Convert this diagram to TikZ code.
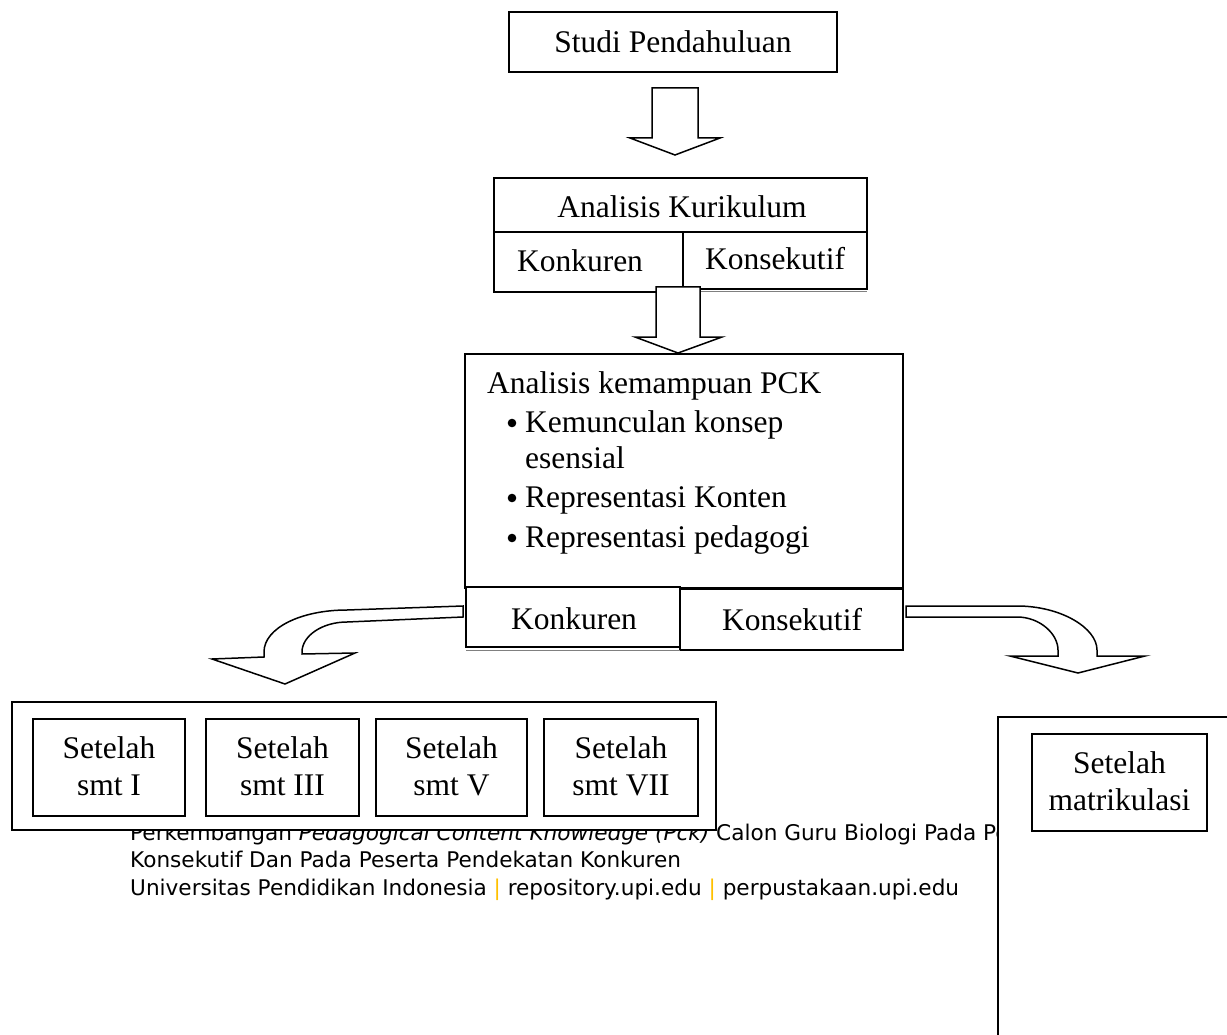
\documentclass[tikz,border=0pt]{standalone}
\usepackage{fontspec}
\setmainfont{Liberation Serif}
\newfontfamily\footfont{DejaVu Sans}
\usetikzlibrary{calc}
\definecolor{sepgold}{RGB}{255,192,0}
\begin{document}
\begin{tikzpicture}[x=1pt,y=-1pt,
  box/.style={draw=black, line width=2pt, fill=white},
  cell/.style={draw=black, line width=1.7pt, fill=white},
  txt/.style={font=\fontsize{31.5}{37.5}\selectfont, inner sep=0pt, anchor=base},
  ltxt/.style={font=\fontsize{31.5}{37.5}\selectfont, inner sep=0pt, anchor=base west},
  barrow/.style={draw=black, line width=1.5pt, fill=white, line join=miter},
  foot/.style={font=\footfont\fontsize{21.6}{27.5}\selectfont, inner sep=0pt, anchor=base west}]
\useasboundingbox (0,0) rectangle (1227,1035);
\clip (0,0) rectangle (1227,1035);

% footer text (partly covered by boxes)
\node[foot] (f1) at (130,840) {Perkembangan \textit{Pedagogical Content Knowledge (Pck)} Calon Guru Biologi Pada Peserta Pendekatan};
\node[foot] (f2) at (130,867.5) {Konsekutif Dan Pada Peserta Pendekatan Konkuren};
\node[foot] (f3) at (130,895) {Universitas Pendidikan Indonesia {\color{sepgold}|} repository.upi.edu {\color{sepgold}|} perpustakaan.upi.edu};

% Studi Pendahuluan
\draw[box] (509,12) rectangle (837,72);
\node[txt] (studi) at (673,53) {Studi Pendahuluan};

% arrow 1
\coordinate (a1) at (675,88);
\draw[barrow] (a1) ++(-23,0) -- ++(46,0) -- ++(0,50) -- ++(22,0) -- (675,155) -- (630,138) -- (652,138) -- cycle;

% Analisis Kurikulum
\draw[box] (494,178) rectangle (867,232);
\node[txt] (ak) at (682,218) {Analisis Kurikulum};
\draw[cell] (683,232) rectangle (867,289);
\draw[gray, line width=1pt] (683,292) -- (867,292);
\draw[cell, line width=2.4pt] (494,232) rectangle (683,292);
\node[txt] (akk) at (580,272) {Konkuren};
\node[txt] (aks) at (775,270) {Konsekutif};

% arrow 2
\coordinate (a2) at (678,287);
\draw[barrow] (a2) ++(-22,0) -- ++(44,0) -- ++(0,50) -- (722,337) -- (678,353) -- (635,337) -- (656,337) -- cycle;

% PCK box
\draw[box] (465,354) rectangle (903,588);
\node[ltxt] (pck) at (487,393) {Analisis kemampuan PCK};
\foreach \y in {432, 507, 547}{
  \fill (512,\y-9) circle (4.3);
}
\node[ltxt] (b1) at (525,432) {Kemunculan konsep};
\node[ltxt] (b1b) at (525,468) {esensial};
\node[ltxt] (b2) at (525,507) {Representasi Konten};
\node[ltxt] (b3) at (525,547) {Representasi pedagogi};
\draw[cell, line width=2pt] (680,589) rectangle (903,650);
\draw[cell] (466,587) rectangle (680,647);
\draw[gray, line width=1pt] (466,650) -- (680,650);
\node[txt] (pk) at (574,629) {Konkuren};
\node[txt] (ps) at (792,630) {Konsekutif};

% curved arrows
\draw[barrow] (463,606) -- (347,610) .. controls (301,610) and (264,628) .. (264,652) -- (264,657) -- (212,659) -- (285,684) -- (355,653) -- (302,654) -- (302,652) .. controls (302,636) and (322,622) .. (347,622) -- (463,617) -- cycle;
\draw[barrow] (906,606) -- (1017,606) .. controls (1061,606) and (1097,628) .. (1097,650) -- (1097,656) -- (1145,656) -- (1078,673) -- (1010,656) -- (1058,656) -- (1058,650) .. controls (1058,634) and (1040,617) .. (1017,617) -- (906,617) -- cycle;

% left group
\draw[box] (12,702) rectangle (716,830);
\foreach \x/\w/\n/\s in {33/185/s1/I, 206/359/s2/III, 376/527/s3/V, 544/698/s4/VII}{
  \draw[cell] (\x,719) rectangle (\w,816);
  \node[txt] (\n a) at ({(\x+\w)/2},758) {Setelah};
  \node[txt] (\n b) at ({(\x+\w)/2},795) {smt \s};
}

% right group
\draw[box] (998,717) rectangle (1240,1050);
\draw[cell] (1032,734) rectangle (1207,831);
\node[txt] (m1) at (1119.5,773) {Setelah};
\node[txt] (m2) at (1119.5,810) {matrikulasi};
\end{tikzpicture}
\end{document}
